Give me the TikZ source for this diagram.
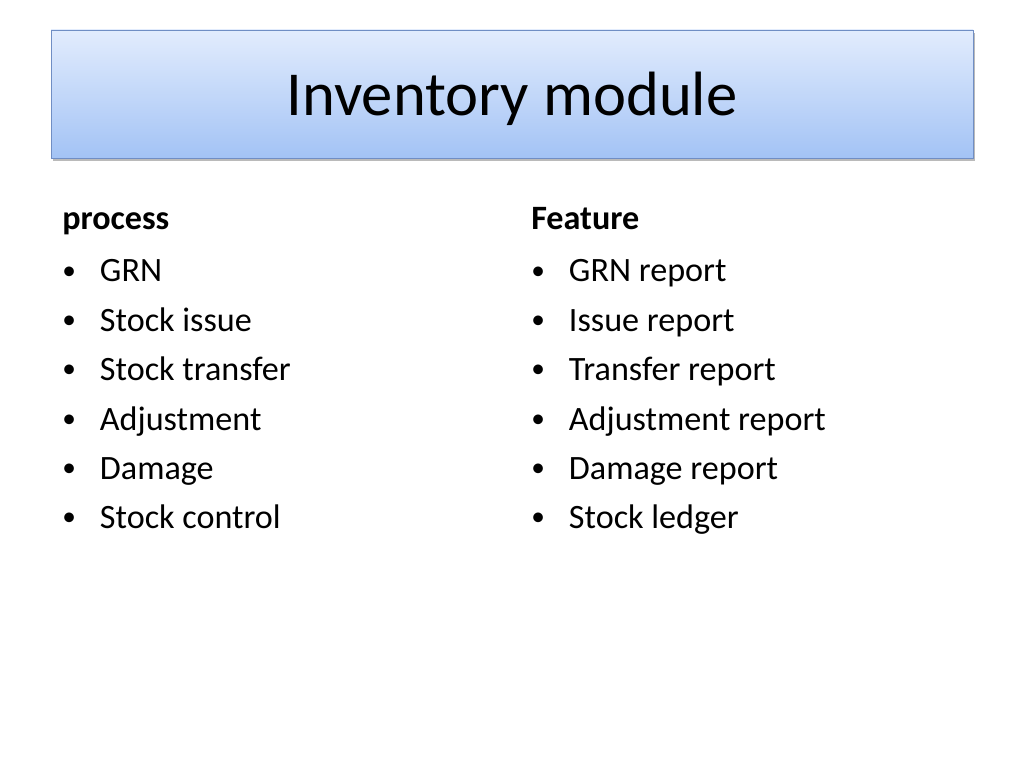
\documentclass[tikz,border=0pt]{standalone}
\usepackage{fontspec}
\setmainfont{Carlito}
\usetikzlibrary{shadows}

\definecolor{boxtop}{RGB}{226,236,253}
\definecolor{boxbottom}{RGB}{163,195,245}
\definecolor{boxline}{RGB}{112,142,196}

\newcommand{\itembullet}{\makebox[26.5pt][l]{\raisebox{1.6pt}{\scalebox{0.8}{•}}}}

\begin{document}
\begin{tikzpicture}[x=0.703125pt, y=-0.703125pt,
	item/.style={anchor=base west, inner sep=0pt, font=\fontsize{24}{29}\selectfont},
	head/.style={anchor=base west, inner sep=0pt, font=\fontsize{24}{29}\selectfont\bfseries}]
	\useasboundingbox[fill=white] (0,0) rectangle (1024,768);

	% title box
	\node (z1)[shape=rectangle, draw=boxline, top color=boxtop, bottom color=boxbottom,
		minimum width=922*0.703125pt, minimum height=128*0.703125pt, inner sep=0pt,
		drop shadow={shadow xshift=1.2pt, shadow yshift=-1.8pt, opacity=0.45, fill=black!60}]
		at (512,94){};
	\node (t1)[anchor=base, inner sep=0pt, font=\fontsize{44}{53}\selectfont]
		at (512,116){Inventory module};

	% left column
	\node (h1)[head] at (62,230){process};
	\node (p1)[item] at (62,282){\itembullet GRN};
	\node (p2)[item] at (62,331){\itembullet Stock issue};
	\node (p3)[item] at (62,380){\itembullet Stock transfer};
	\node (p4)[item] at (62,430){\itembullet Adjustment};
	\node (p5)[item] at (62,479){\itembullet Damage};
	\node (p6)[item] at (62,528){\itembullet Stock control};

	% right column
	\node (h2)[head] at (531,230){Feature};
	\node (f1)[item] at (531,282){\itembullet GRN report};
	\node (f2)[item] at (531,331){\itembullet Issue report};
	\node (f3)[item] at (531,380){\itembullet Transfer report};
	\node (f4)[item] at (531,430){\itembullet Adjustment report};
	\node (f5)[item] at (531,479){\itembullet Damage report};
	\node (f6)[item] at (531,528){\itembullet Stock ledger};
\end{tikzpicture}
\end{document}
